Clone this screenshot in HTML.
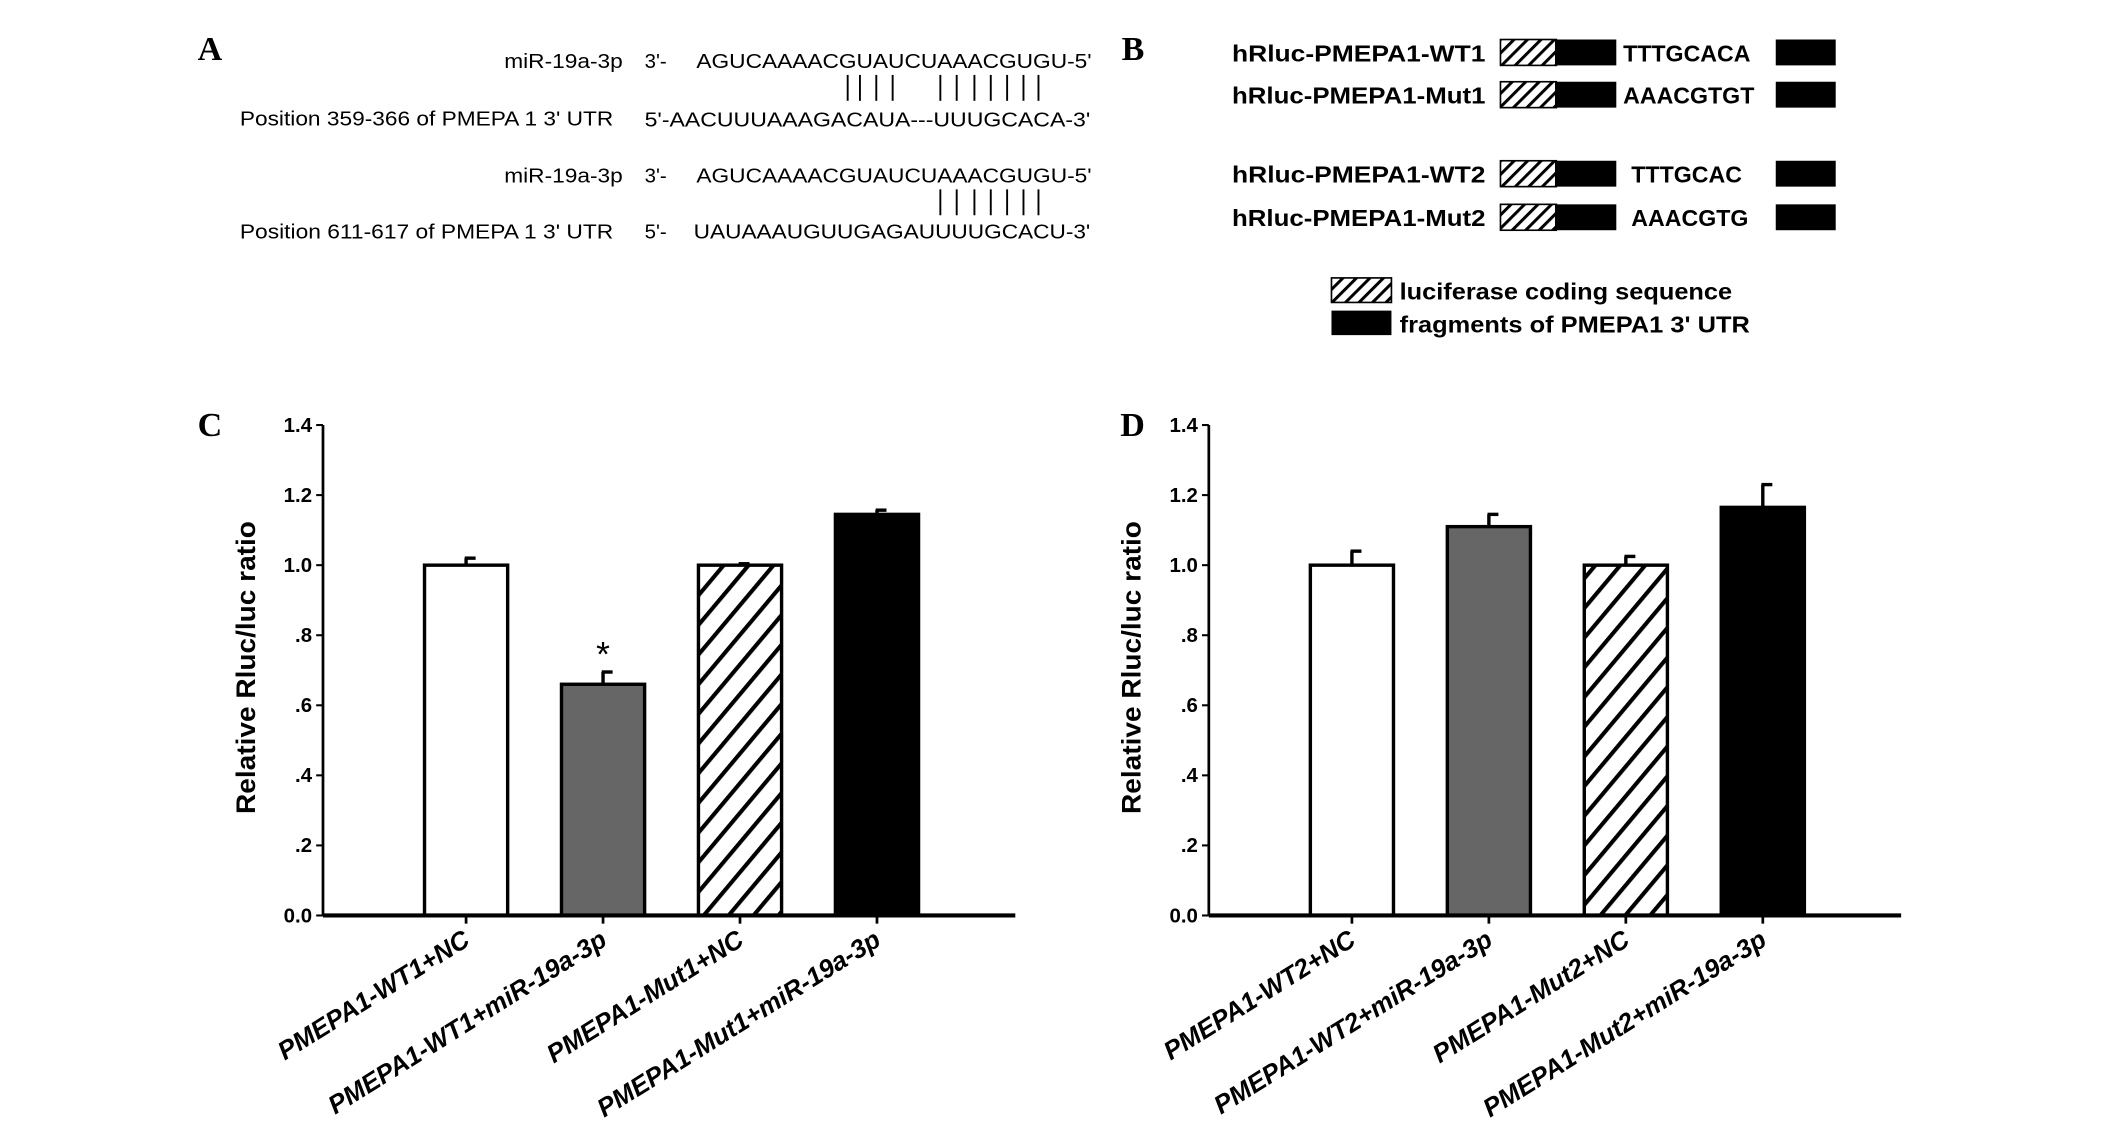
<!DOCTYPE html>
<html><head><meta charset="utf-8"><style>
html,body{margin:0;padding:0;background:#fff}
svg{display:block}
text{font-family:"Liberation Sans",sans-serif;fill:#000}
.lt{font-family:"Liberation Serif",serif;font-weight:bold;font-size:25px}
</style></head><body>
<svg id="fig" width="2126" height="1128" viewBox="0 0 1560 828" preserveAspectRatio="none" xmlns="http://www.w3.org/2000/svg">
<defs>
<pattern id="hatch" patternUnits="userSpaceOnUse" width="7" height="7" patternTransform="rotate(45)">
<rect width="7" height="7" fill="#fff"/><rect width="2.2" height="7" fill="#000"/></pattern>
<pattern id="hatchB" patternUnits="userSpaceOnUse" width="14" height="14" patternTransform="rotate(40)">
<rect width="14" height="14" fill="#fff"/><rect width="3" height="14" fill="#000"/></pattern>
</defs>
<g font-size="15">
<text class="lt" x="145" y="44">A</text>
<text x="370" y="50" textLength="87" lengthAdjust="spacingAndGlyphs">miR-19a-3p</text><text x="473" y="50">3'-</text>
<text x="511" y="50" textLength="290" lengthAdjust="spacingAndGlyphs">AGUCAAAACGUAUCUAAACGUGU-5'</text>
<g stroke="#000" stroke-width="1.4">
<line x1="622" y1="55" x2="622" y2="74"/><line x1="631" y1="55" x2="631" y2="74"/><line x1="643" y1="55" x2="643" y2="74"/><line x1="655" y1="55" x2="655" y2="74"/>
<line x1="690" y1="55" x2="690" y2="74"/><line x1="702" y1="55" x2="702" y2="74"/><line x1="715" y1="55" x2="715" y2="74"/><line x1="727" y1="55" x2="727" y2="74"/><line x1="739" y1="55" x2="739" y2="74"/><line x1="751" y1="55" x2="751" y2="74"/><line x1="762" y1="55" x2="762" y2="74"/>
</g>
<text x="176" y="92" textLength="274" lengthAdjust="spacingAndGlyphs">Position 359-366 of PMEPA 1 3' UTR</text>
<text x="473" y="93" textLength="327" lengthAdjust="spacingAndGlyphs">5'-AACUUUAAAGACAUA---UUUGCACA-3'</text>
<text x="370" y="134" textLength="87" lengthAdjust="spacingAndGlyphs">miR-19a-3p</text><text x="473" y="134">3'-</text>
<text x="511" y="134" textLength="290" lengthAdjust="spacingAndGlyphs">AGUCAAAACGUAUCUAAACGUGU-5'</text>
<g stroke="#000" stroke-width="1.4">
<line x1="690" y1="139" x2="690" y2="158"/><line x1="702" y1="139" x2="702" y2="158"/><line x1="715" y1="139" x2="715" y2="158"/><line x1="727" y1="139" x2="727" y2="158"/><line x1="739" y1="139" x2="739" y2="158"/><line x1="751" y1="139" x2="751" y2="158"/><line x1="762" y1="139" x2="762" y2="158"/>
</g>
<text x="176" y="175" textLength="274" lengthAdjust="spacingAndGlyphs">Position 611-617 of PMEPA 1 3' UTR</text>
<text x="473" y="175">5'-</text>
<text x="509" y="175" textLength="291" lengthAdjust="spacingAndGlyphs">UAUAAAUGUUGAGAUUUUGCACU-3'</text>
</g>
<g font-size="17" font-weight="bold">
<text class="lt" x="823" y="44">B</text>
<g id="constructs"></g>
<rect x="977" y="204" width="44" height="18" fill="url(#hatch)" stroke="#000" stroke-width="1.2"/>
<text x="1027" y="220" textLength="244" lengthAdjust="spacingAndGlyphs">luciferase coding sequence</text>
<rect x="977" y="228" width="44" height="18" fill="#000"/>
<text x="1027" y="244" textLength="257" lengthAdjust="spacingAndGlyphs">fragments of PMEPA1 3' UTR</text>
</g>
<g id="chartC"></g>
<g id="chartD"></g>
</svg>
<script>
const NS="http://www.w3.org/2000/svg";
function mk(p,t,a,txt){const e=document.createElementNS(NS,t);for(const k in a)e.setAttribute(k,a[k]);if(txt!==undefined)e.textContent=txt;p.appendChild(e);return e;}
const constructNames=["hRluc-PMEPA1-WT1","hRluc-PMEPA1-Mut1","hRluc-PMEPA1-WT2","hRluc-PMEPA1-Mut2"];
const constructSeqs=["TTTGCACA","AAACGTGT","TTTGCAC","AAACGTG"];
const cg=document.getElementById('constructs');
const rowY=[29,60,118,150];
constructNames.forEach((n,i)=>{
  const y=rowY[i];
  let t=mk(cg,'text',{x:904,y:y+16,textLength:186,lengthAdjust:'spacingAndGlyphs'},n);
  
  
  mk(cg,'rect',{x:1101,y:y,width:41,height:19,fill:'url(#hatch)',stroke:'#000','stroke-width':1.2});
  mk(cg,'rect',{x:1141,y:y,width:45,height:19,fill:'#000'});
  let s=mk(cg,'text',{x:i<2?1191:1197,y:y+16},constructSeqs[i]);
  
  
  mk(cg,'rect',{x:1303,y:y,width:44,height:19,fill:'#000'});
});
const yTicks=[0,0.2,0.4,0.6,0.8,1.0,1.2,1.4];
const yTickLabels=["0.0",".2",".4",".6",".8","1.0","1.2","1.4"];
const catsC=["PMEPA1-WT1+NC","PMEPA1-WT1+miR-19a-3p","PMEPA1-Mut1+NC","PMEPA1-Mut1+miR-19a-3p"];
const valsC=[1.0,0.66,1.0,1.145];
const errC=[0.02,0.035,0.004,0.012];
const catsD=["PMEPA1-WT2+NC","PMEPA1-WT2+miR-19a-3p","PMEPA1-Mut2+NC","PMEPA1-Mut2+miR-19a-3p"];
const valsD=[1.0,1.11,1.0,1.165];
const errD=[0.04,0.035,0.025,0.065];
const fills=['#fff','#666','url(#hatchB)','#000'];
function chart(gid,letter,x0,lx,cats,vals,errs,star){
  const g=document.getElementById(gid);
  const top=312,bot=672,w=508;
  const y=v=>bot-(v/1.4)*(bot-top);
  const xc=i=>x0+105+i*100.5;
  let L=mk(g,'text',{x:lx,y:320,class:'lt'},letter);
  
  
  yTicks.forEach((v,i)=>{
    mk(g,'line',{x1:x0-5,x2:x0,y1:y(v),y2:y(v),stroke:'#000','stroke-width':1.5});
    let t=mk(g,'text',{x:x0-8,y:y(v)+5,'text-anchor':'end','font-size':15,'font-weight':'bold'},yTickLabels[i]);
    
    
  });
  let yt=mk(g,'text',{x:0,y:0,transform:`translate(${x0-50},${(top+bot)/2-2}) rotate(-90)`,'text-anchor':'middle','font-size':20,'font-weight':'bold',textLength:215,lengthAdjust:'spacingAndGlyphs'},'Relative Rluc/luc ratio');
  
  
  cats.forEach((c,i)=>{
    const cx=xc(i),bw=61;
    mk(g,'line',{x1:cx,x2:cx,y1:y(vals[i]),y2:y(vals[i]+errs[i]),stroke:'#000','stroke-width':2.5});
    mk(g,'line',{x1:cx-1,x2:cx+7,y1:y(vals[i]+errs[i]),y2:y(vals[i]+errs[i]),stroke:'#000','stroke-width':2.5});
    let b=mk(g,'rect',{x:cx-bw/2,y:y(vals[i]),width:bw,height:bot-y(vals[i]),fill:fills[i],stroke:'#000','stroke-width':2.5});
    
    
    mk(g,'line',{x1:cx,x2:cx,y1:bot,y2:bot+6,stroke:'#000','stroke-width':2});
    let t=mk(g,'text',{x:0,y:0,transform:`translate(${cx+4},${bot+21}) rotate(-32)`,'text-anchor':'end','font-size':19,'font-weight':'bold','font-style':'italic'},c);
    
    
    if(star&&star[i]){let s=mk(g,'text',{x:cx,y:y(vals[i]+errs[i])-4,'text-anchor':'middle','font-size':26},'*');
      
      }
  });
  mk(g,'line',{x1:x0,x2:x0,y1:top,y2:bot,stroke:'#000','stroke-width':2});
  mk(g,'line',{x1:x0,x2:x0+w,y1:bot,y2:bot,stroke:'#000','stroke-width':3});
}
chart('chartC','C',237,145,catsC,valsC,errC,[0,1,0,0]);
chart('chartD','D',887,822,catsD,valsD,errD,null);
</script>
</body></html>
